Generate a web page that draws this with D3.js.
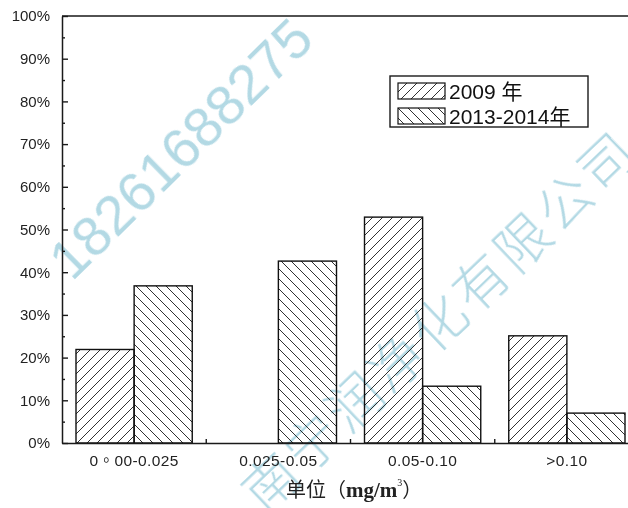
<!DOCTYPE html>
<html>
<head>
<meta charset="utf-8">
<script src="https://cdn.jsdelivr.net/npm/d3@7"></script>
<style>
  html, body { margin: 0; padding: 0; background: #fff; }
  svg { display: block; }
</style>
</head>
<body>
<svg id="chart" width="628" height="508"></svg>
<script>
// Concentration bands (mg/m³) and share of samples per period
const categories = ["0。00-0.025", "0.025-0.05", "0.05-0.10", ">0.10"];
const seriesNames = ["2009 年", "2013-2014年"];
const values2009 = [21.9, null, 52.9, 25.1];
const values2013 = [36.8, 42.6, 13.3, 7.0];
const yTicks = [0, 10, 20, 30, 40, 50, 60, 70, 80, 90, 100];
const yMinorTicks = [5, 15, 25, 35, 45, 55, 65, 75, 85, 95];

const SANS = "'Liberation Sans', Arial, 'Noto Sans CJK SC', sans-serif";
const CJK = "'Noto Sans CJK SC', sans-serif";
const SERIF = "'Liberation Serif', 'Times New Roman', serif";

const svg = d3.select("#chart");
const plotL = 62, plotR = 639, plotT = 16, plotB = 443;

const x = d3.scaleBand().domain(categories).range([plotL, plotR]).padding(0);
const inner = d3.scaleBand().domain(seriesNames).range([14, x.bandwidth() - 14]).padding(0);
const y = d3.scaleLinear().domain([0, 100]).range([plotB, plotT]);

// Hatch patterns: forward slashes for 2009, back slashes for 2013-2014
const defs = svg.append("defs");
function hatch(id, d) {
  defs.append("pattern")
    .attr("id", id).attr("patternUnits", "userSpaceOnUse")
    .attr("width", 10).attr("height", 10)
    .append("path").attr("d", d)
    .attr("stroke", "#1a1a1a").attr("stroke-width", 0.9).attr("fill", "none");
}
hatch("fwd", "M-1,1 l2,-2 M0,10 l10,-10 M9,11 l2,-2");
hatch("bwd", "M-1,9 l2,2 M0,0 l10,10 M9,-1 l2,2");
const fills = { "2009 年": "url(#fwd)", "2013-2014年": "url(#bwd)" };

// Watermark text in the background
const wm = svg.append("g").attr("fill", "rgb(160,208,222)").attr("opacity", 0.8);
wm.append("text")
  .attr("transform", "translate(180,148) rotate(-44.5)")
  .attr("text-anchor", "middle").attr("dy", "0.36em")
  .style("font-family", SANS).style("font-size", "56px")
  .text("18261688275");
wm.append("text")
  .attr("transform", "translate(441,322) rotate(-43.6)")
  .attr("text-anchor", "middle").attr("dy", "0.36em")
  .style("font-family", CJK).style("font-size", "54px").style("font-weight", 300)
  .style("letter-spacing", "4px")
  .text("南宁润净化有限公司");

// Bars
const rows = [];
categories.forEach((c, i) => {
  rows.push({ cat: c, series: seriesNames[0], value: values2009[i] });
  rows.push({ cat: c, series: seriesNames[1], value: values2013[i] });
});
svg.append("g").selectAll("rect")
  .data(rows.filter(d => d.value != null))
  .join("rect")
  .attr("x", d => x(d.cat) + inner(d.series))
  .attr("y", d => y(d.value))
  .attr("width", inner.bandwidth())
  .attr("height", d => y(0) - y(d.value))
  .attr("fill", d => fills[d.series])
  .attr("stroke", "#111").attr("stroke-width", 1.4);

// Left axis: major ticks with labels, minor ticks between
const yAxis = svg.append("g").attr("transform", `translate(${plotL},0)`)
  .call(d3.axisLeft(y).tickValues(yTicks).tickSize(-6).tickSizeOuter(0)
    .tickPadding(12).tickFormat(d => d + "%"));
const yMinor = svg.append("g").attr("transform", `translate(${plotL},0)`)
  .call(d3.axisLeft(y).tickValues(yMinorTicks).tickSize(-3).tickSizeOuter(0).tickFormat(""));
yMinor.select(".domain").remove();
[yAxis, yMinor].forEach(g => g.selectAll("line").attr("stroke", "#1a1a1a").attr("stroke-width", 1.4));
yAxis.select(".domain").attr("stroke", "#1a1a1a").attr("stroke-width", 1.5);
yAxis.selectAll("text")
  .style("font-family", SANS).style("font-size", "15px").attr("fill", "#222");

// Bottom axis: category labels, boundary ticks pointing up
const xAxis = svg.append("g").attr("transform", `translate(0,${plotB})`)
  .call(d3.axisBottom(x).tickSize(0).tickSizeOuter(0).tickPadding(12));
xAxis.select(".domain").attr("stroke", "#1a1a1a").attr("stroke-width", 1.5);
xAxis.selectAll("text")
  .style("font-family", "'Liberation Sans', Arial, 'Noto Sans CJK TC', sans-serif")
  .style("font-size", "15.5px").style("letter-spacing", "0.4px")
  .attr("fill", "#222");
svg.append("g").selectAll("line")
  .data(categories.slice(1))
  .join("line")
  .attr("x1", d => x(d)).attr("x2", d => x(d))
  .attr("y1", plotB).attr("y2", plotB - 4)
  .attr("stroke", "#1a1a1a").attr("stroke-width", 1.4);

// Frame top and right
svg.append("path")
  .attr("d", `M${plotL},${plotT}H${plotR}V${plotB}`)
  .attr("fill", "none").attr("stroke", "#1a1a1a").attr("stroke-width", 1.5);

// Axis title
const title = svg.append("text").attr("x", 286).attr("y", 497).attr("fill", "#222");
title.append("tspan").style("font-family", CJK).style("font-size", "20px").text("单位（");
title.append("tspan").style("font-family", SERIF).style("font-size", "21px").style("font-weight", "bold").text("mg/m");
title.append("tspan").style("font-family", SERIF).style("font-size", "10px").attr("dy", -11).text("3");
title.append("tspan").style("font-family", CJK).style("font-size", "20px").attr("dy", 11).text("）");

// Legend
const lg = svg.append("g");
lg.append("rect").attr("x", 390).attr("y", 76).attr("width", 198).attr("height", 51)
  .attr("fill", "#fff").attr("stroke", "#1a1a1a").attr("stroke-width", 1.4);
seriesNames.forEach((s, i) => {
  const ry = 83 + i * 25;
  lg.append("rect").attr("x", 398).attr("y", ry).attr("width", 47).attr("height", 16)
    .attr("fill", fills[s]).attr("stroke", "#111").attr("stroke-width", 1.2);
  lg.append("text").attr("x", 449).attr("y", ry + 15.5)
    .style("font-family", SANS).style("font-size", "21px").attr("fill", "#111")
    .text(s);
});
</script>
</body>
</html>
